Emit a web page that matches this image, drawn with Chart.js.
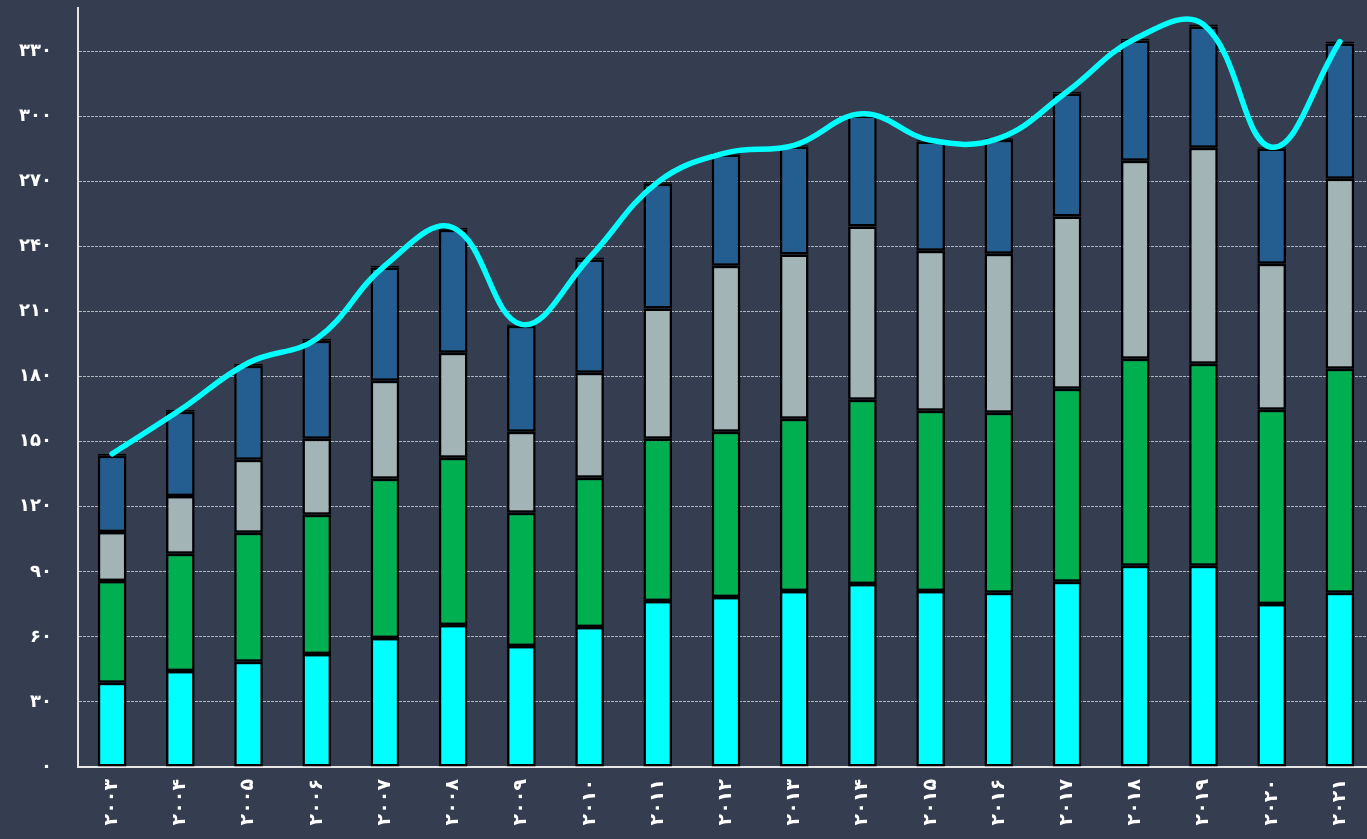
<!DOCTYPE html>
<html>
<head>
<meta charset="utf-8">
<script src="https://cdn.jsdelivr.net/npm/chart.js@4"></script>
<style>
    html, body { margin: 0; padding: 0; background: #343e50; overflow: hidden; }
    #wrap { width: 1376px; height: 839px; position: relative; }
</style>
</head>
<body>
<div id="wrap"><canvas id="mainChart"></canvas></div>
<script>
// years (Persian digits)
const years = ['۲۰۰۳', '۲۰۰۴', '۲۰۰۵', '۲۰۰۶', '۲۰۰۷', '۲۰۰۸', '۲۰۰۹', '۲۰۱۰', '۲۰۱۱', '۲۰۱۲',
               '۲۰۱۳', '۲۰۱۴', '۲۰۱۵', '۲۰۱۶', '۲۰۱۷', '۲۰۱۸', '۲۰۱۹', '۲۰۲۰', '۲۰۲۱'];

// stacked segments, bottom to top
const cyanSeries   = [38.8, 44.3, 48.5, 52.1, 59.5, 65.5, 55.8, 64.6, 76.6, 78.4, 81.2, 84.4, 81.2, 80.3, 85.4, 92.8, 92.8, 75.2, 80.3];
const greenSeries  = [47.0, 54.0, 59.5, 64.2, 73.4, 77.1, 61.4, 68.8, 74.8, 76.2, 79.4, 85.0, 83.1, 83.1, 89.0, 95.5, 93.2, 89.5, 103.4];
const graySeries   = [22.6, 26.7, 33.7, 35.1, 45.2, 48.4, 37.4, 48.4, 60.0, 76.6, 75.7, 79.8, 73.8, 73.3, 79.4, 91.3, 99.6, 67.4, 87.6];
const blueSeries   = [35.1, 38.8, 43.3, 45.2, 52.2, 56.8, 48.9, 52.2, 57.6, 51.2, 49.8, 51.2, 50.3, 52.6, 56.8, 55.4, 55.9, 53.1, 62.3];
const orangeSeries = [0.9, 0.9, 0.9, 0.9, 0.9, 0.9, 0.6, 0.9, 0.7, 0.8, 0.6, 0.8, 0.6, 0.6, 0.8, 0.8, 0.9, 0.6, 0.9];

// smoothed total line
const totalLine = [144.4, 164.7, 186.4, 197.5, 231.2, 248.7, 204.1, 234.9, 269.7, 283.2, 286.7, 301.2, 289.0, 289.9, 311.4, 335.8, 342.4, 285.8, 334.5];

const yTicks = [0, 30, 60, 90, 120, 150, 180, 210, 240, 270, 300, 330];

function toPersian(n) {
    const d = '۰۱۲۳۴۵۶۷۸۹';
    return String(n).replace(/[0-9]/g, c => d[c]);
}

function barSet(label, data, color) {
    return {
        type: 'bar',
        label: label,
        data: data,
        backgroundColor: color,
        borderColor: '#000000',
        borderWidth: 2.5,
        borderSkipped: false,
        barPercentage: 0.42,
        categoryPercentage: 1,
        stack: 'bars',
        order: 1
    };
}

const ctx = document.getElementById('mainChart').getContext('2d');

new Chart(ctx, {
    data: {
        labels: years,
        datasets: [
            {
                type: 'line',
                label: 'total',
                data: totalLine,
                borderColor: '#00ffff',
                borderWidth: 5.5,
                tension: 0.4,
                pointRadius: 0,
                fill: false,
                stack: 'line',
                order: 0,
                borderCapStyle: 'round'
            },
            barSet('s1', cyanSeries, '#00ffff'),
            barSet('s2', greenSeries, '#00b050'),
            barSet('s3', graySeries, '#a2b4b6'),
            barSet('s4', blueSeries, '#245e90'),
            barSet('s5', orangeSeries, '#ffc000')
        ]
    },
    options: {
        responsive: true,
        maintainAspectRatio: false,
        animation: false,
        layout: { padding: { top: 8, right: 2, left: 0, bottom: 0 } },
        plugins: {
            legend: { display: false },
            tooltip: { enabled: false }
        },
        scales: {
            x: {
                stacked: true,
                afterFit: s => { s.height = 72; },
                grid: { display: false, drawTicks: false },
                border: { color: '#e6e6e6', width: 2 },
                ticks: {
                    color: '#ffffff',
                    padding: 12,
                    minRotation: 90,
                    maxRotation: 90,
                    font: { family: 'DejaVu Sans', size: 19, weight: 'bold' }
                }
            },
            y: {
                stacked: true,
                min: 0,
                max: 350,
                afterFit: s => { s.width = 78; s.paddingTop = 0; s.paddingBottom = 0; },
                afterBuildTicks: s => { s.ticks = yTicks.map(v => ({ value: v })); },
                grid: {
                    color: '#b0b4bc',
                    lineWidth: 1,
                    drawTicks: false
                },
                border: { color: '#e6e6e6', width: 2, dash: [3, 1] },
                ticks: {
                    color: '#ffffff',
                    padding: 26,
                    callback: v => toPersian(v),
                    font: { family: 'DejaVu Sans', size: 18, weight: 'bold' }
                }
            }
        }
    }
});
</script>
</body>
</html>
